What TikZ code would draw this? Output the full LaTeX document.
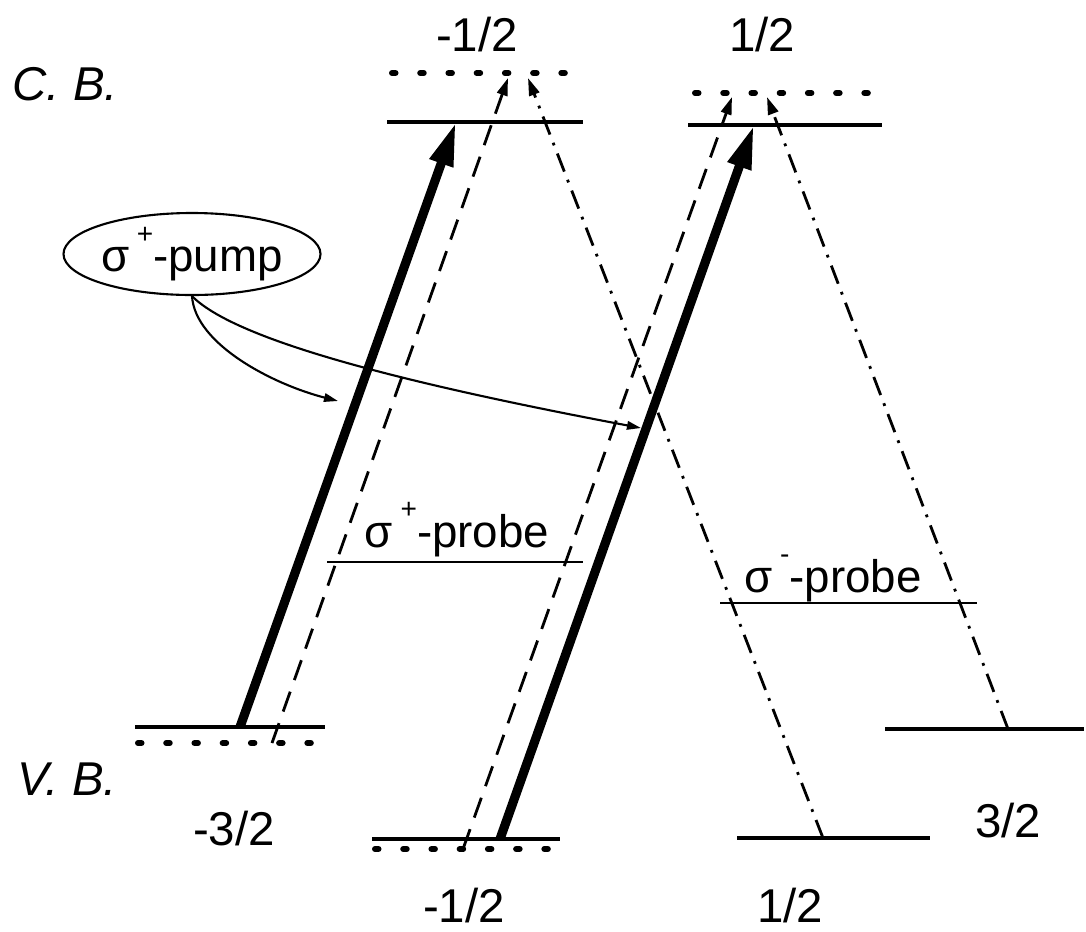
\documentclass[tikz,border=0pt]{standalone}
\usepackage{fontspec}
\setmainfont{Liberation Sans}
\usetikzlibrary{arrows.meta,positioning,shapes.geometric}

% raised small sign after sigma
\newcommand{\polsign}[1]{\raisebox{0.62em}{\fontsize{8}{8}\selectfont #1}}

\begin{document}
\begin{tikzpicture}[
    lvl/.style={line width=1.2pt},
    dotlvl/.style={line width=1.7pt,line cap=round,dash pattern=on 1pt off 7.03pt},
    pumparr/.style={line width=2.6pt,-{Triangle[length=12.5pt,width=6.5pt]}},
    plusarr/.style={line width=0.8pt,dash pattern=on 6pt off 3.5pt,
                    -{Triangle[length=5pt,width=3pt]}},
    minusarr/.style={line width=0.8pt,dash pattern=on 5.5pt off 2.5pt on 0.8pt off 2.5pt,
                     -{Triangle[length=5pt,width=3pt]}},
    curvarr/.style={line width=0.6pt,-{Triangle[length=4pt,width=2.4pt]}},
    spinlbl/.style={font=\fontsize{13.5}{16}\selectfont,anchor=base,inner sep=0pt},
    bandlbl/.style={font=\fontsize{13.5}{16}\selectfont\itshape,anchor=base west,inner sep=0pt},
    siglbl/.style={font=\fontsize{13}{15}\selectfont,anchor=base,inner sep=0pt},
  ]
  \useasboundingbox (0,0) rectangle (10.86,9.31);

  % ---- Conduction band levels -----------------------------------
  \draw[lvl]    (3.87,8.09) -- (5.83,8.09);
  \draw[dotlvl] (3.92,8.58) -- (5.65,8.58);
  \draw[lvl]    (6.88,8.06) -- (8.82,8.06);
  \draw[dotlvl] (6.95,8.38) -- (8.68,8.38);

  % ---- Valence band levels --------------------------------------
  \draw[lvl]    (1.35,2.04) -- (3.25,2.04);
  \draw[dotlvl] (1.38,1.88) -- (3.11,1.88);
  \draw[lvl]    (3.72,0.92) -- (5.60,0.92);
  \draw[dotlvl] (3.75,0.82) -- (5.48,0.82);
  \draw[lvl]    (7.37,0.93) -- (9.30,0.93);
  \draw[lvl]    (8.85,2.02) -- (10.84,2.02);

  % ---- Transition end points -------------------------------------
  \coordinate (vm32)  at (2.40,2.04);
  \coordinate (vm12)  at (5.00,0.92);
  \coordinate (vm32d) at (2.72,1.88);
  \coordinate (vm12d) at (4.63,0.82);
  \coordinate (vp12)  at (8.23,0.93);
  \coordinate (vp32)  at (10.08,2.02);
  \coordinate (cm12)  at (4.56,8.09);
  \coordinate (cp12)  at (7.54,8.06);
  \coordinate (cm12d) at (5.08,8.53);
  \coordinate (cp12d) at (7.32,8.34);
  \coordinate (cm12m) at (5.28,8.53);
  \coordinate (cp12m) at (7.67,8.34);

  % Pump (thick), sigma+ probe (dashed), sigma- probe (dash-dot)
  \draw[pumparr]  (vm32)  -- (cm12);
  \draw[pumparr]  (vm12)  -- (cp12);
  \draw[plusarr]  (vm32d) -- (cm12d);
  \draw[plusarr]  (vm12d) -- (cp12d);
  \draw[minusarr] (vp12)  -- (cm12m);
  \draw[minusarr] (vp32)  -- (cp12m);

  % ---- Labels ------------------------------------------------------
  \node[spinlbl] (tm12) at (4.77,8.80) {-1/2};
  \node[spinlbl] (tp12) at (7.62,8.80) {1/2};
  \node[spinlbl] (bm32) at (2.34,0.86) {-3/2};
  \node[spinlbl] (bm12) at (4.64,0.09) {-1/2};
  \node[spinlbl] (bp12) at (7.90,0.09) {1/2};
  \node[spinlbl] (bp32) at (10.08,0.94) {3/2};
  \node[bandlbl] (cb) at (0.12,8.31) {C. B.};
  \node[bandlbl] (vb) at (0.17,1.36) {V. B.};

  % ---- Pump label with pointers -------------------------------------
  \node[ellipse,draw,line width=0.6pt,minimum width=2.5cm,minimum height=0.82cm,
        inner sep=0pt,font=\fontsize{13}{15}\selectfont] (pump) at (1.92,6.77)
    {σ\,\polsign{+}-pump};
  \coordinate (hitA) at (3.38,5.30);
  \coordinate (hitB) at (6.41,5.03);
  \draw[curvarr] (pump.south) .. controls (1.95,5.86) and (2.75,5.46) .. (hitA);
  \draw[curvarr] (pump.south) .. controls (2.40,5.86) and (4.40,5.41) .. (hitB);

  % ---- Probe labels ---------------------------------------------------
  \node[siglbl] (plus) at (4.57,3.84) {σ\,\polsign{+}-probe};
  \draw[line width=0.6pt] (3.27,3.69) -- (5.83,3.69);
  \node[siglbl] (minus) at (8.33,3.39) {σ\,\polsign{-}-probe};
  \draw[line width=0.6pt] (7.20,3.28) -- (9.77,3.28);

\end{tikzpicture}
\end{document}
